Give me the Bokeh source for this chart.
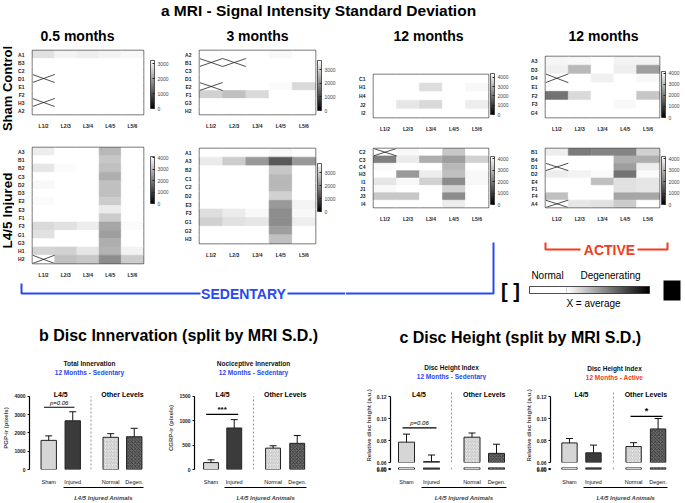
import numpy as np
from bokeh.plotting import figure
from bokeh.layouts import row, column
from bokeh.models import (ColumnDataSource, LinearColorMapper, ColorBar, FixedTicker,
                          Range1d, LinearAxis, Whisker, TeeHead)
from bokeh.palettes import Greys256
from bokeh.embed import file_html
from bokeh.resources import INLINE
from bokeh.core.properties import value

FONT = "Liberation Sans"
BLUE = "#2748f2"
RED = "#f23c1c"

# ---------------- data: MRI signal-intensity S.D. heatmaps ----------------
levels = ["L1/2", "L2/3", "L3/4", "L4/5", "L5/6"]

sham_05_rows = ["A1", "B3", "C2", "D1", "E1", "F2", "H3", "A2"]
sham_05_vals = [[2820, 3040, 2980, 3040, 3100],
                [3200, 3200, 3200, 3200, 3200],
                [3200, 3200, 3200, 3200, 3200],
                [None, 3200, 3200, 3200, 3200],
                [3200, 3200, 3200, 3200, 3200],
                [3200, 3200, 3200, 3200, 3200],
                [None, 3200, 3200, 3200, 3200],
                [3200, 3200, 3200, 3200, 3200]]

sham_3_rows = ["A2", "B1", "C3", "D1", "E2", "F1", "G3", "H2"]
sham_3_vals = [[3630, 3700, 3700, 3590, 3700],
               [None, None, 3700, 3700, 3700],
               [3700, 3700, 3700, 3700, 3700],
               [3700, 3700, 3700, 3700, 3700],
               [None, 3700, 3700, 3630, 3150],
               [3030, 2780, 3150, 3700, 3700],
               [3700, 3700, 3700, 3700, 3700],
               [3700, 3700, 3700, 3700, 3700]]

sham_12s_rows = ["C1", "H1", "H4", "J2", "I2"]
sham_12s_vals = [[4400, 4400, 4400, 4400, 4400],
                 [4400, 4400, 3830, 4400, 4270],
                 [4400, 4400, 4400, 4400, 4400],
                 [4400, 3960, 3740, 4400, 4090],
                 [4400, 4400, 4400, 4400, 4400]]

sham_12a_rows = ["A3", "D3", "D4", "E1", "F2", "F3", "G4"]
sham_12a_vals = [[3980, 4030, 4150, 3940, 3940],
                 [3900, 2990, 4150, 3860, 2570],
                 [None, 4150, 3900, 4150, 4030],
                 [4150, 4150, 4150, 4150, 4150],
                 [1870, 3530, 4150, 4150, 3240],
                 [4150, 4150, 4150, 4030, 4150],
                 [4150, 4150, 4150, 4150, 4150]]

inj_05_rows = ["A3", "B1", "B2", "C3", "D2", "D3", "E2", "E3", "F1", "F3", "G1", "G3", "H1", "H2"]
inj_05_vals = [[3810, 4100, 4100, 2950, 4100],
               [4100, 4100, 4100, 3200, 4100],
               [3690, 4020, 4100, 3080, 4100],
               [4100, 4100, 4100, 2790, 4100],
               [3980, 4100, 4100, 3080, 4100],
               [4100, 4100, 4100, 3080, 4100],
               [4020, 4100, 4100, 3280, 4100],
               [4100, 4100, 4100, 3770, 4100],
               [4100, 4100, 4100, 3280, 4100],
               [3490, 3610, 3810, 2670, 4020],
               [3610, 4100, 4100, 2540, 4100],
               [4100, 4100, 4100, 2790, 4100],
               [3400, 3360, 3690, 2870, 3900],
               [None, 3080, 3200, 2260, 3280]]

inj_3_rows = ["A1", "A3", "B2", "C1", "C2", "D2", "E3", "F3", "G1", "G2", "H3"]
inj_3_vals = [[3700, 3700, 3700, 3590, 3700],
              [3400, 2960, 2220, 1300, 2220],
              [3700, 3700, 3700, 2890, 3700],
              [3700, 3700, 3700, 2660, 3700],
              [3700, 3700, 3700, 2660, 3700],
              [3700, 3700, 3700, 3030, 3700],
              [3700, 3700, 3700, 2220, 3520],
              [3220, 3400, 3590, 2040, 3590],
              [3030, 3260, 3330, 2040, 3440],
              [3700, 3700, 3700, 2290, 3700],
              [3700, 3700, 3700, 2780, 3700]]

inj_12s_rows = ["C2", "C3", "C4", "H3", "I1", "J1", "J3", "I4"]
inj_12s_vals = [[None, 4070, 4200, 3280, 4200],
                [2100, 3860, 2860, 2600, 3440],
                [4110, 4200, 4200, 3020, 4200],
                [4200, 2520, 3900, 3150, 4070],
                [3780, 4070, 3440, 2310, 4070],
                [4070, 4200, 4200, 3440, 4200],
                [3280, 3280, 4200, 2310, 4200],
                [4200, 4200, 4200, 3900, 4200]]

inj_12a_rows = ["B1", "B4", "D1", "D2", "E4", "F1", "F4", "A4"]
inj_12a_vals = [[3900, 2020, 2180, 2180, 3440],
                [4200, 4200, 4200, 2860, 2860],
                [None, 4200, 4200, 2600, 3900],
                [3900, 3990, 4110, 1890, 4110],
                [4200, 4200, 3150, 3700, 3780],
                [4200, 4200, 4200, 3700, 3780],
                [3150, 4200, 4200, 2730, 2730],
                [None, 3780, 3700, 3360, 4200]]

# ---------------- data: bar charts ----------------
bar_cats = ["Sham", "Injured", "Normal", "Degen."]
pgp_mean = [1595, 2667, 1762, 1793]
pgp_sem = [245, 493, 198, 462]
cgrp_mean = [142, 852, 439, 537]
cgrp_sem = [56, 172, 48, 161]
dh_sed_mean = [0.0785, 0.0608, 0.0830, 0.0683]
dh_sed_sem = [0.0073, 0.0060, 0.0038, 0.0083]
dh_act_mean = [0.0778, 0.0688, 0.0745, 0.0905]
dh_act_sem = [0.0040, 0.0070, 0.0035, 0.0095]

bar_fill = ["#d6d6d6", "#3b3b3b", "#ececec", "#6e6e6e"]
bar_hatch = [" ", " ", "right_diagonal_line", "diagonal_cross"]
bar_hatch_color = ["#000000", "#000000", "#a8a8a8", "#222222"]


def style_axis(ax, size="5px", bold=True, color="#222222"):
    ax.major_label_text_font = FONT
    ax.major_label_text_font_size = size
    ax.major_label_text_font_style = "bold" if bold else "normal"
    ax.major_label_text_color = color


def heatmap(rows, vals, cmax, cticks, W, H, bl, br, bt, bb, cb_h, cb_y):
    n = len(rows)
    p = figure(width=W, height=H, x_range=Range1d(0, 5), y_range=Range1d(0, n),
               output_backend="svg", toolbar_location=None, title=None,
               min_border_left=bl, min_border_right=br, min_border_top=bt, min_border_bottom=bb)
    mapper = LinearColorMapper(palette=Greys256, low=0, high=cmax, nan_color="white")
    xs, ys, vs, cx, cy = [], [], [], [], []
    for j in range(n):
        for i, v in enumerate(vals[j]):
            xs.append(i + 0.5)
            ys.append(n - j - 0.5)
            vs.append(float("nan") if v is None else v)
            if v is None:
                cx.append(i)
                cy.append(n - j - 1)
    src = ColumnDataSource(dict(x=xs, y=ys, v=vs))
    p.rect(x="x", y="y", width=1, height=1, source=src,
           fill_color={"field": "v", "transform": mapper},
           line_color={"field": "v", "transform": mapper}, line_width=0.6)
    if cx:
        p.segment(x0=cx, y0=cy, x1=[c + 1 for c in cx], y1=[c + 1 for c in cy],
                  line_color="#222222", line_width=0.8)
        p.segment(x0=cx, y0=[c + 1 for c in cy], x1=[c + 1 for c in cx], y1=cy,
                  line_color="#222222", line_width=0.8)
    p.xaxis.ticker = FixedTicker(ticks=[i + 0.5 for i in range(5)])
    p.xaxis.major_label_overrides = {i + 0.5: lv for i, lv in enumerate(levels)}
    p.yaxis.ticker = FixedTicker(ticks=[n - j - 0.5 for j in range(n)])
    p.yaxis.major_label_overrides = {n - j - 0.5: r for j, r in enumerate(rows)}
    p.axis.axis_line_color = None
    p.axis.major_tick_line_color = None
    p.axis.minor_tick_line_color = None
    p.axis.major_label_standoff = 2
    p.axis.axis_label_standoff = 0
    for ax in p.axis:
        style_axis(ax)
    p.grid.visible = False
    p.outline_line_color = "#555555"
    p.outline_line_width = 1.5
    fw = W - bl - br
    cb = ColorBar(color_mapper=mapper, ticker=FixedTicker(ticks=cticks), width=4, height=cb_h,
                  location=(fw + 2, cb_y), padding=0, margin=0,
                  major_label_text_font=FONT, major_label_text_font_size="5px",
                  major_tick_line_color="#222222", major_tick_in=2, major_tick_out=0,
                  minor_tick_line_color=None, bar_line_color="#333333", bar_line_width=0.8,
                  label_standoff=3, background_fill_alpha=0, border_line_color=None)
    p.add_layout(cb, "center")
    return p


def canvas(x0, x1, y0, y1):
    p = figure(width=x1 - x0, height=y1 - y0, x_range=Range1d(x0, x1), y_range=Range1d(y1, y0),
               x_axis_location=None, y_axis_location=None, output_backend="svg",
               toolbar_location=None, min_border=0, title=None)
    p.grid.visible = False
    p.outline_line_color = None
    return p


def txt(p, x, y, s, size, color="black", style="bold", align="center", angle=0):
    p.text(x=[x], y=[y], text=[s], text_font=value(FONT), text_font_size=size,
           text_font_style=style, text_color=color, text_align=align, text_baseline="middle",
           angle=angle)


def bar_common(p, pos, means, sems, show_err=True):
    src = ColumnDataSource(dict(x=pos, top=means, up=[m + s for m, s in zip(means, sems)],
                                fill=bar_fill, hatch=bar_hatch, hcol=bar_hatch_color))
    p.vbar(x="x", top="top", bottom=0, width=0.64, source=src, fill_color="fill",
           line_color="#222222", line_width=1, hatch_pattern="hatch", hatch_color="hcol",
           hatch_scale=3.5, hatch_weight=0.7)
    if show_err:
        w = Whisker(source=src, base="x", upper="up", lower="top", line_width=1,
                    line_color="#111111", lower_head=None,
                    upper_head=TeeHead(size=7, line_width=1, line_color="#111111"),
                    level="annotation")
        p.add_layout(w)
    p.grid.visible = False
    p.outline_line_color = None


def style_yaxis(p, ticks, labels, bounds, ylabel=None):
    p.yaxis.ticker = FixedTicker(ticks=ticks)
    p.yaxis.major_label_overrides = dict(zip(ticks, labels))
    p.yaxis.bounds = bounds
    p.yaxis.axis_line_width = 1.2
    p.yaxis.major_tick_out = 2
    p.yaxis.major_tick_in = 0
    p.yaxis.minor_tick_line_color = None
    p.yaxis.major_label_standoff = 2
    style_axis(p.yaxis[0], size="5px")
    if ylabel:
        p.yaxis.axis_label = ylabel
        p.yaxis.axis_label_text_font = FONT
        p.yaxis.axis_label_text_font_size = "6px"
        p.yaxis.axis_label_text_font_style = "bold"
        p.yaxis.axis_label_standoff = 2
    else:
        p.yaxis.axis_label = None


def style_xaxes(p, pos):
    p.xaxis.ticker = FixedTicker(ticks=pos)
    p.xaxis.major_label_overrides = dict(zip(pos, bar_cats))
    p.xaxis.axis_line_color = None
    p.xaxis.major_tick_line_color = None
    p.xaxis.minor_tick_line_color = None
    p.xaxis.major_label_standoff = 3
    style_axis(p.xaxis[0], size="5.5px", bold=False, color="#111111")
    mid = round((pos[1] + pos[3]) / 2, 3)
    ax2 = LinearAxis(ticker=FixedTicker(ticks=[mid]),
                     major_label_overrides={mid: "L4/5 Injured Animals"},
                     bounds=(pos[1] - 0.4, pos[3] + 0.4), axis_line_width=1.2,
                     major_tick_line_color=None, minor_tick_line_color=None,
                     major_label_standoff=1, major_label_text_font=FONT,
                     major_label_text_font_size="6px", major_label_text_font_style="bold italic")
    p.add_layout(ax2, "below")


def bar_b(means, sems, pos, xs, xe, ytop, yticks, ylabel, W, bl, br, sig, sig_txt,
          sig_style, sig_size, divx):
    p = figure(width=W, height=123, x_range=Range1d(xs, xe), y_range=Range1d(0, ytop),
               output_backend="svg", toolbar_location=None, title=None,
               min_border_left=bl, min_border_right=br, min_border_top=6, min_border_bottom=25)
    bar_common(p, pos, means, sems)
    style_yaxis(p, yticks, [str(t) for t in yticks], (0, yticks[-1]), ylabel)
    style_xaxes(p, pos)
    px = ytop / 92.0
    p.segment(x0=[divx], x1=[divx], y0=[0], y1=[yticks[-1]], line_color="#777777",
              line_width=0.8, line_dash="2 2")
    p.text(x=[(pos[0] + pos[1]) / 2, (pos[2] + pos[3]) / 2], y=[ytop - 9 * px] * 2,
           text=["L4/5", "Other Levels"], text_font=value(FONT), text_font_size="7px",
           text_font_style="bold", text_align="center", text_baseline="middle")
    p.segment(x0=[sig[0]], x1=[sig[1]], y0=[sig[2]], y1=[sig[2]], line_color="black", line_width=1.2)
    p.text(x=[(sig[0] + sig[1]) / 2], y=[sig[2] + 5 * px], text=[sig_txt], text_font=value(FONT),
           text_font_size=sig_size, text_font_style=sig_style, text_align="center",
           text_baseline="middle")
    return p


def bar_c(means, sems, pos, xs, xe, W, bl, br, sig, sig_txt, sig_style, sig_size, divx):
    ytop = 0.06 + 76 / 66 * 0.06
    up = figure(width=W, height=86, x_range=Range1d(xs, xe), y_range=Range1d(0.06, ytop),
                output_backend="svg", toolbar_location=None, title=None,
                min_border_left=bl, min_border_right=br, min_border_top=6, min_border_bottom=4)
    bar_common(up, pos, means, sems)
    yt = [0.06, 0.08, 0.10, 0.12]
    style_yaxis(up, yt, ["0.06", "0.08", "0.10", "0.12"], (0.06, 0.12), "Relative disc height  (a.u.)")
    up.xaxis.visible = False
    px = (ytop - 0.06) / 76.0
    up.segment(x0=[divx], x1=[divx], y0=[0.06], y1=[0.125], line_color="#777777",
               line_width=0.8, line_dash="2 2")
    up.text(x=[(pos[0] + pos[1]) / 2, (pos[2] + pos[3]) / 2], y=[ytop - 8 * px] * 2,
            text=["L4/5", "Other Levels"], text_font=value(FONT), text_font_size="7px",
            text_font_style="bold", text_align="center", text_baseline="middle")
    up.segment(x0=[sig[0]], x1=[sig[1]], y0=[sig[2]], y1=[sig[2]], line_color="black", line_width=1.2)
    up.text(x=[(sig[0] + sig[1]) / 2], y=[sig[2] + 5 * px], text=[sig_txt], text_font=value(FONT),
            text_font_size=sig_size, text_font_style=sig_style, text_align="center",
            text_baseline="middle")
    lo_top = 0.05 * 9 / 6.5
    lo = figure(width=W, height=37, x_range=Range1d(xs, xe), y_range=Range1d(0, lo_top),
                output_backend="svg", toolbar_location=None, title=None,
                min_border_left=bl, min_border_right=br, min_border_top=1, min_border_bottom=27)
    bar_common(lo, pos, means, sems, show_err=False)
    style_yaxis(lo, [0.0, 0.05], ["0.00", "0.05"], (0, 0.05))
    style_xaxes(lo, pos)
    lo.segment(x0=[divx], x1=[divx], y0=[0], y1=[lo_top], line_color="#777777",
               line_width=0.8, line_dash="2 2")
    return column(up, lo)


# ---------------- header ----------------
head = canvas(0, 685, 0, 46)
txt(head, 318, 10, "a MRI - Signal Intensity Standard Deviation", "15.5px")
for cxp, s in zip([77, 257, 428, 603], ["0.5 months", "3 months", "12 months", "12 months"]):
    txt(head, cxp, 35, s, "14px")

# row labels
lab = canvas(0, 14, 46, 280)
txt(lab, 7, 88, "Sham Control", "13px", angle=np.pi / 2)
txt(lab, 7, 210, "L4/5 Injured", "13.5px", angle=np.pi / 2)

# ---------------- heatmaps ----------------
h1 = heatmap(sham_05_rows, sham_05_vals, 3200, [0, 1000, 2000, 3000], 156, 85, 13, 27, 4, 11, 48, 6)
h5 = heatmap(inj_05_rows, inj_05_vals, 4100, [0, 1000, 2000, 3000, 4000], 156, 149, 13, 27, 16, 10, 47, 60)
h2 = heatmap(sham_3_rows, sham_3_vals, 3700, [0, 1000, 2000, 3000], 175, 85, 29, 30, 4, 11, 50, 4)
h6 = heatmap(inj_3_rows, inj_3_vals, 3700, [0, 1000, 2000, 3000], 175, 149, 29, 30, 17, 37, 48, 32)
h3 = heatmap(sham_12s_rows, sham_12s_vals, 4400, [0, 1000, 2000, 3000, 4000], 170, 88, 28, 27, 28, 10, 41, 3)
h7 = heatmap(inj_12s_rows, inj_12s_vals, 4200, [0, 1000, 2000, 3000, 4000], 170, 90, 28, 27, 14, 10, 48, 3)
h4 = heatmap(sham_12a_rows, sham_12a_vals, 4150, [0, 1000, 2000, 3000, 4000], 170, 88, 30, 26, 10, 16, 46, 0)
h8 = heatmap(inj_12a_rows, inj_12a_vals, 4200, [0, 1000, 2000, 3000, 4000], 170, 90, 30, 26, 14, 10, 48, 3)

# ---------------- brackets / legend strips ----------------
sl = canvas(0, 345, 280, 310)
sl.line(x=[21, 21, 200], y=[283, 293, 293], line_color=BLUE, line_width=2)
sl.line(x=[287, 345], y=[293, 293], line_color=BLUE, line_width=2)
txt(sl, 243, 293, "SEDENTARY", "14px", color=BLUE)

sr = canvas(345, 685, 224, 310)
sr.line(x=[345, 493, 493], y=[293, 293, 242], line_color=BLUE, line_width=2)
sr.line(x=[545, 545, 580], y=[242, 249, 249], line_color=RED, line_width=2)
sr.line(x=[637, 667, 667], y=[249, 249, 242], line_color=RED, line_width=2)
txt(sr, 609, 249, "ACTIVE", "14px", color=RED)
grad = np.concatenate([np.zeros(37), np.linspace(0, 1, 83)]).reshape(1, 120)
sr.image(image=[grad], x=529, y=286, dw=120, dh=7,
         color_mapper=LinearColorMapper(palette=list(reversed(Greys256)), low=0, high=1))
sr.quad(left=[529], right=[649], top=[286], bottom=[293], fill_color=None, line_color="#222222", line_width=0.8)
sr.segment(x0=[566], x1=[566], y0=[286], y1=[293], line_color="#888888", line_width=0.8, line_dash="1 1")
txt(sr, 547, 275, "Normal", "10px", style="normal")
txt(sr, 610, 275, "Degenerating", "10px", style="normal")
txt(sr, 593, 303, "X = average", "10px", style="normal")
txt(sr, 510, 290, "[ ]", "20px")
sr.quad(left=[663], right=[680], top=[280], bottom=[300], fill_color="black", line_color=None)

# ---------------- bottom header with chart titles ----------------
bh = canvas(0, 685, 310, 380)
txt(bh, 178, 335, "b Disc Innervation (split by MRI S.D.)", "16px")
txt(bh, 522, 337, "c  Disc Height (split by MRI S.D.)", "16px")
for cxp, y1, t1, t2, col in [(89, 363, "Total Innervation", "12 Months - Sedentary", BLUE),
                             (253, 363, "Nociceptive Innervation", "12 Months - Sedentary", BLUE),
                             (451, 367, "Disc Height Index", "12 Months - Sedentary", BLUE),
                             (614, 368, "Disc Height Index", "12 Months - Active", RED)]:
    txt(bh, cxp, y1, t1, "6.5px", color="#111111")
    txt(bh, cxp, y1 + 9, t2, "6.5px", color=col)

# ---------------- bar charts ----------------
b1 = bar_b(pgp_mean, pgp_sem, [1, 2, 3.58, 4.56], 0.2, 5.32, 4000 * 92 / 81, [0, 1000, 2000, 3000, 4000],
           "PGP-ir (pixels)", 165, 24, 13, (0.8, 2.07, 3407), "p=0.06", "italic", "6px", 2.76)
b2 = bar_b(cgrp_mean, cgrp_sem, [1, 2, 3.67, 4.71], 0.29, 5.625, 1500 * 92 / 81, [0, 500, 1000, 1500],
           "CGRP-ir (pixels)", 175, 25, 22, (0.79, 2.17, 1130), "***", "bold", "8px", 2.83)
c1 = bar_c(dh_sed_mean, dh_sed_sem, [1, 2, 3.62, 4.6], 0.36, 5.32, 180, 50, 6,
           (0.84, 2.2, 0.0914), "p=0.06", "italic", "6px", 2.8)
c2 = bar_c(dh_act_mean, dh_act_sem, [1, 2, 3.67, 4.69], 0.21, 5.54, 165, 30, 7,
           (3.54, 4.88, 0.102), "*", "bold", "9px", 2.83)

left_block = column(row(lab, column(h1, h5), column(h2, h6)), sl)
right_block = column(row(column(h3, h7), column(h4, h8)), sr)
layout = column(head, row(left_block, right_block), bh, row(b1, b2, c1, c2))

open("out.html", "w").write(file_html(layout, INLINE))
